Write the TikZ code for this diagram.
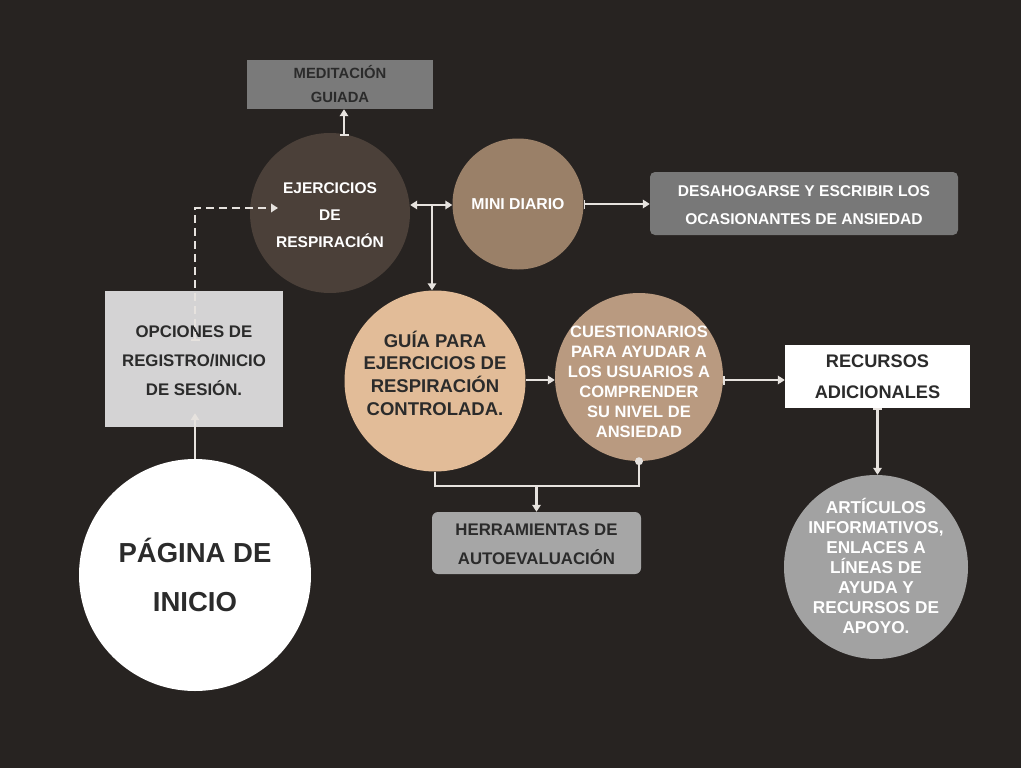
\documentclass[tikz,border=0pt]{standalone}
\usepackage{fontspec}
\setmainfont{Liberation Sans}
\usetikzlibrary{arrows.meta,calc}
\definecolor{bg}{HTML}{272321}
\definecolor{ejfill}{HTML}{4B4039}
\definecolor{mdfill}{HTML}{9A8068}
\definecolor{gufill}{HTML}{E2BC98}
\definecolor{cufill}{HTML}{B99A80}
\definecolor{artfill}{HTML}{A2A2A2}
\definecolor{medfill}{HTML}{7A7A7A}
\definecolor{desfill}{HTML}{787878}
\definecolor{herfill}{HTML}{A6A6A6}
\definecolor{opfill}{HTML}{D4D3D4}
\definecolor{linec}{HTML}{E6E2DE}
\definecolor{darktxt}{HTML}{2B2B2B}
\newcommand{\fsz}[2]{\fontsize{#1}{#2}\selectfont\bfseries}
\tikzset{
  bubble/.style={circle,inner sep=0pt},
  caption/.style={inner sep=0pt,align=center},
  panel/.style={rectangle,inner sep=0pt,align=center},
  conn/.style={draw=linec,line width=2.2pt},
  tip/.style={conn,-{Triangle[length=7pt,width=8.5pt]}},
  bartip/.style={conn,{Bar[width=9pt,line width=1.6pt]}-{Triangle[length=7pt,width=8.5pt]}},
  twotip/.style={conn,{Triangle[length=7pt,width=8.5pt]}-{Triangle[length=7pt,width=8.5pt]}},
}
\begin{document}
\begin{tikzpicture}[x=1pt,y=-1pt]
\fill[bg] (0,0) rectangle (1021,768);
\useasboundingbox (0,0) rectangle (1021,768);

% boxes
\node[panel,fill=medfill,minimum width=186pt,minimum height=49pt] (med) at (340,84.5) {};
\node[caption,text=darktxt,font=\fsz{14.8}{24}] (med-t) at (med.center) {MEDITACIÓN\\GUIADA};
\node[panel,fill=desfill,rounded corners=5pt,minimum width=308pt,minimum height=63pt] (desa) at (804,203.5) {};
\node[caption,text=white,font=\fsz{15.6}{28}] (desa-t) at ([yshift=-2pt]desa.center) {DESAHOGARSE Y ESCRIBIR LOS\\OCASIONANTES DE ANSIEDAD};
\node[panel,fill=opfill,minimum width=178pt,minimum height=136pt] (op) at (194,359) {};
\node[caption,text=darktxt,font=\fsz{16.8}{29}] (op-t) at ([yshift=-2pt]op.center) {OPCIONES DE\\REGISTRO/INICIO\\DE SESIÓN.};
\node[panel,fill=white,minimum width=185pt,minimum height=63pt] (rec) at (877.5,376.5) {};
\node[caption,text=darktxt,font=\fsz{18.2}{31}] (rec-t) at (rec.center) {RECURSOS\\ADICIONALES};
\node[panel,fill=herfill,rounded corners=6pt,minimum width=209pt,minimum height=62pt] (her) at (536.5,543) {};
\node[caption,text=darktxt,font=\fsz{16.8}{29}] (her-t) at ([yshift=-1pt]her.center) {HERRAMIENTAS DE\\AUTOEVALUACIÓN};

% circles, with their texts set on top
\node[bubble,fill=ejfill,minimum size=160pt] (ej) at (330,213) {};
\node[caption,text=white,font=\fsz{15.5}{27}] (ej-t) at ([yshift=-2pt]ej.center) {EJERCICIOS\\DE\\RESPIRACIÓN};
\node[bubble,fill=mdfill,minimum size=131pt] (md) at (518,204) {};
\node[caption,text=white,font=\fsz{15.8}{17}] (md-t) at (md.center) {MINI DIARIO};
\node[bubble,fill=gufill,minimum size=181pt] (gu) at (435,381) {};
\node[caption,text=darktxt,font=\fsz{18.5}{22.7}] (gu-t) at ([yshift=8pt]gu.center) {GUÍA PARA\\EJERCICIOS DE\\RESPIRACIÓN\\CONTROLADA.};
\node[bubble,fill=cufill,minimum size=168pt] (cu) at (639,377) {};
\node[caption,text=white,font=\fsz{16.5}{20}] (cu-t) at ([yshift=-5pt]cu.center) {CUESTIONARIOS\\PARA AYUDAR A\\LOS USUARIOS A\\COMPRENDER\\SU NIVEL DE\\ANSIEDAD};
\node[bubble,fill=artfill,minimum size=184pt] (art) at (876,567) {};
\node[caption,text=white,font=\fsz{17.2}{20}] (art-t) at ([yshift=1pt]art.center) {ARTÍCULOS\\INFORMATIVOS,\\ENLACES A\\LÍNEAS DE\\AYUDA Y\\RECURSOS DE\\APOYO.};
\node[bubble,fill=white,minimum size=232pt] (pg) at (195,575) {};
\node[caption,text=darktxt,font=\fsz{27.5}{49}] (pg-t) at (pg.center) {PÁGINA DE\\INICIO};

% connectors
\draw[bartip] ([xshift=14pt,yshift=-3pt]ej.north) -- ([xshift=4pt]med.south);
\draw[twotip] ([yshift=8pt]ej.east) -- ([yshift=8pt]ej.east -| md.west);
\coordinate (j1) at (432,205);
\draw[tip] (j1) -- (j1 |- gu.north);
\draw[bartip] (md.east) -- (md.east -| desa.west);
\draw[tip] ([yshift=1pt]gu.east) -- ([yshift=1pt]gu.east -| cu.west);
\draw[bartip] ([yshift=-3pt]cu.east) -- ([yshift=-3pt]cu.east -| rec.west);
\draw[bartip] (rec.south) -- (rec.south |- art.north);
\draw[conn] (gu.south) -- ++(0,14) -| (cu.south);
\fill[linec] (cu.south) circle (4pt);
\coordinate (j2) at (536.5,485);
\draw[tip] (j2) -- (her.north);
\draw[conn,dash pattern=on 8pt off 5pt,{Bar[width=9pt,line width=1.6pt]}-{Triangle[length=7pt,width=8.5pt]}]
  ([xshift=1pt,yshift=18pt]op.center) |- ([xshift=-52pt,yshift=5pt]ej.center);
\draw[tip,shorten >=-14pt] (pg.north) -- (pg.north |- op.south);
\end{tikzpicture}
\end{document}
